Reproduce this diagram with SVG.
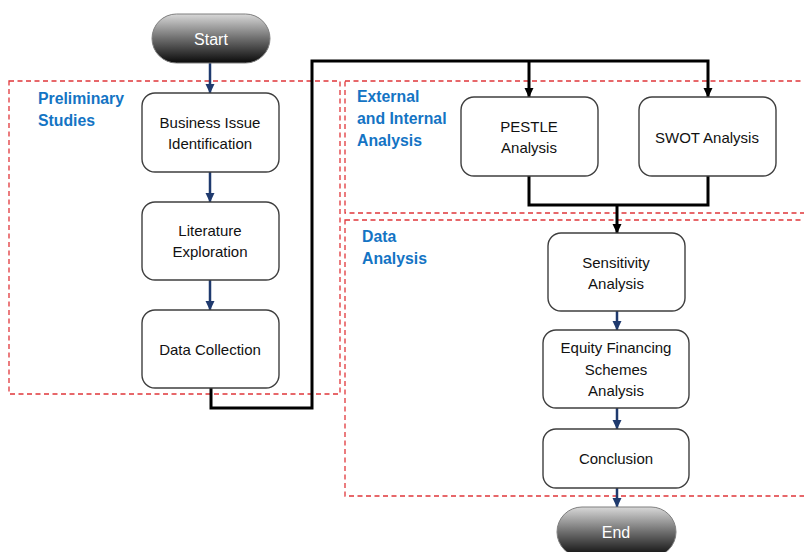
<svg xmlns="http://www.w3.org/2000/svg" width="804" height="552" viewBox="0 0 804 552">
  <style>
    .zone { fill: none; stroke: #e0363a; stroke-width: 1.3; stroke-dasharray: 5 3.5; }
    .zlabel { font-family: "Liberation Sans", Arial, sans-serif; font-weight: bold; font-size: 15.8px; fill: #1474c4; }
    .box { fill: #ffffff; stroke: #3f3f3f; stroke-width: 1.4; }
    .txt { font-family: "Liberation Sans", Arial, sans-serif; font-size: 15px; fill: #111111; text-anchor: middle; }
    .pill { fill: url(#pillGrad); stroke: #7f7f7f; stroke-width: 1; }
    .ptxt { font-family: "Liberation Sans", Arial, sans-serif; font-size: 16px; fill: #ffffff; text-anchor: middle; }
    .flow { fill: none; stroke: #1f3a6e; stroke-width: 2.5; }
    .link { fill: none; stroke: #000000; stroke-width: 3; stroke-linejoin: miter; }
  </style>
  <defs>
    <linearGradient id="pillGrad" x1="0" y1="0" x2="0" y2="1">
      <stop offset="0" stop-color="#d8d8d8"/>
      <stop offset="0.5" stop-color="#6e6e6e"/>
      <stop offset="1" stop-color="#0a0a0a"/>
    </linearGradient>
    <!-- heads drawn pointing along +x, turned by orient="auto" -->
    <marker id="navyHead" markerWidth="10" markerHeight="10" refX="9" refY="5" orient="auto" markerUnits="userSpaceOnUse" viewBox="0 0 10 10">
      <path d="M0,0.5 L9.5,5 L0,9.5 Z" fill="#1f3a6e"/>
    </marker>
    <marker id="blackHead" markerWidth="10" markerHeight="10" refX="9" refY="5" orient="auto" markerUnits="userSpaceOnUse" viewBox="0 0 10 10">
      <path d="M0,0.5 L9.5,5 L0,9.5 Z" fill="#000000"/>
    </marker>
  </defs>

  <rect width="804" height="552" fill="#ffffff"/>

  <!-- dashed zones -->
  <g id="zones">
    <rect class="zone" x="9" y="81" width="331" height="313"/>
    <rect class="zone" x="345" y="81" width="470" height="132"/>
    <rect class="zone" x="345" y="220" width="470" height="276"/>
    <text class="zlabel" x="38" y="104">Preliminary</text>
    <text class="zlabel" x="38" y="126">Studies</text>
    <text class="zlabel" x="357" y="102">External</text>
    <text class="zlabel" x="357" y="124">and Internal</text>
    <text class="zlabel" x="357" y="146">Analysis</text>
    <text class="zlabel" x="362" y="242">Data</text>
    <text class="zlabel" x="362" y="264">Analysis</text>
  </g>

  <!-- connectors -->
  <g id="connectors">
    <line class="flow" x1="210" y1="63" x2="210" y2="93" marker-end="url(#navyHead)"/>
    <line class="flow" x1="210" y1="172" x2="210" y2="202" marker-end="url(#navyHead)"/>
    <line class="flow" x1="210" y1="280" x2="210" y2="310" marker-end="url(#navyHead)"/>
    <polyline class="link" points="211,388 211,408 312,408 312,61 708,61 708,97" marker-end="url(#blackHead)"/>
    <line class="link" x1="529" y1="61" x2="529" y2="97" marker-end="url(#blackHead)"/>
    <polyline class="link" points="529,176 529,205 708,205 708,176"/>
    <line class="link" x1="617" y1="205" x2="617" y2="233" marker-end="url(#blackHead)"/>
    <line class="flow" x1="617" y1="311" x2="617" y2="330" marker-end="url(#navyHead)"/>
    <line class="flow" x1="617" y1="408" x2="617" y2="429" marker-end="url(#navyHead)"/>
    <line class="flow" x1="617" y1="488" x2="617" y2="507" marker-end="url(#navyHead)"/>
  </g>

  <!-- nodes -->
  <g id="start">
    <rect class="pill" x="152" y="14" width="118" height="49" rx="24.5"/>
    <text class="ptxt" x="211" y="45">Start</text>
  </g>
  <g id="business-issue">
    <rect class="box" x="142" y="93" width="137" height="79" rx="13"/>
    <text class="txt" x="210" y="128">Business Issue</text>
    <text class="txt" x="210" y="149">Identification</text>
  </g>
  <g id="literature">
    <rect class="box" x="142" y="202" width="137" height="78" rx="13"/>
    <text class="txt" x="210" y="236">Literature</text>
    <text class="txt" x="210" y="257">Exploration</text>
  </g>
  <g id="data-collection">
    <rect class="box" x="142" y="310" width="137" height="78" rx="13"/>
    <text class="txt" x="210" y="355">Data Collection</text>
  </g>
  <g id="pestle">
    <rect class="box" x="461" y="97" width="137" height="79" rx="13"/>
    <text class="txt" x="529" y="132">PESTLE</text>
    <text class="txt" x="529" y="153">Analysis</text>
  </g>
  <g id="swot">
    <rect class="box" x="639" y="97" width="137" height="79" rx="13"/>
    <text class="txt" x="707" y="143">SWOT Analysis</text>
  </g>
  <g id="sensitivity">
    <rect class="box" x="548" y="233" width="137" height="78" rx="13"/>
    <text class="txt" x="616" y="268">Sensitivity</text>
    <text class="txt" x="616" y="289">Analysis</text>
  </g>
  <g id="equity">
    <rect class="box" x="543" y="330" width="146" height="78" rx="13"/>
    <text class="txt" x="616" y="353">Equity Financing</text>
    <text class="txt" x="616" y="375">Schemes</text>
    <text class="txt" x="616" y="396">Analysis</text>
  </g>
  <g id="conclusion">
    <rect class="box" x="543" y="429" width="146" height="59" rx="13"/>
    <text class="txt" x="616" y="464">Conclusion</text>
  </g>
  <g id="end">
    <rect class="pill" x="557" y="507" width="119" height="50" rx="25"/>
    <text class="ptxt" x="616" y="538">End</text>
  </g>
</svg>
